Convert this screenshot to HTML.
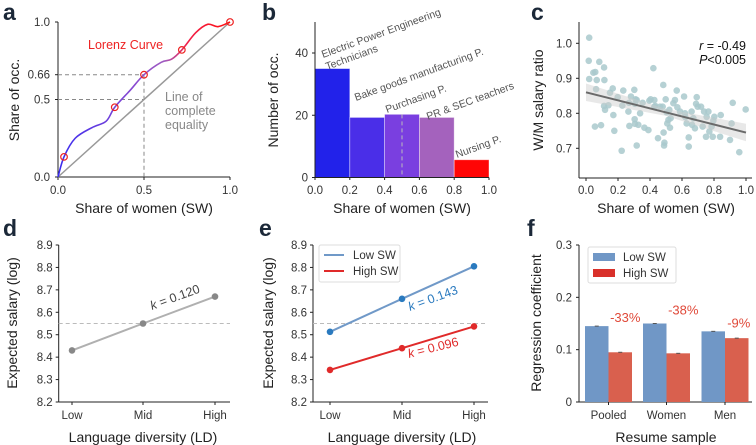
<!DOCTYPE html>
<html><head><meta charset="utf-8">
<style>
html,body{margin:0;padding:0;background:#fff;}
svg{display:block;font-family:"Liberation Sans","DejaVu Sans",sans-serif;}
.tk{font-size:11.5px;fill:#333;}
.lab{font-size:14px;fill:#222;}
.pl{font-size:23px;font-weight:bold;fill:#1b2838;}
</style></head>
<body>
<svg id="fig" width="756" height="445" viewBox="0 0 756 445" xmlns="http://www.w3.org/2000/svg">
<defs>
<linearGradient id="lg" x1="58" y1="0" x2="230" y2="0" gradientUnits="userSpaceOnUse">
<stop offset="0" stop-color="#3a2cf0"/><stop offset="0.45" stop-color="#8a4ad0"/><stop offset="0.62" stop-color="#a05cc0"/><stop offset="0.75" stop-color="#f0204a"/><stop offset="1" stop-color="#ff1010"/>
</linearGradient>
</defs>
</svg>
<script>
// ---- data ----
const lorenzX=[0,0.035,0.1,0.2,0.28,0.33,0.42,0.5,0.6,0.66,0.72,0.8,0.87,0.93,1.0];
const lorenzY=[0,0.13,0.25,0.32,0.36,0.45,0.56,0.66,0.74,0.76,0.82,0.93,0.985,0.97,1.0];
const lorenzMarkX=[0.035,0.33,0.5,0.72,1.0];
const lorenzMarkY=[0.13,0.45,0.66,0.82,1.0];
const histEdges=[0,0.2,0.4,0.6,0.8,1.0];
const histCounts=[35,19.3,20.3,19.3,5.7];
const histColors=["#2222ea","#4a2ee8","#7a3fe0","#a462bd","#ff0505"];
const scatX=[.02,.017,.02,.046,.058,.067,.063,.083,.113,.115,.056,.094,.113,.119,.14,.15,.167,.171,.177,.198,.233,.227,.269,.265,.271,.281,.302,.306,.31,.304,.306,.317,.317,.327,.338,.354,.365,.39,.396,.404,.421,.427,.427,.433,.45,.463,.479,.483,.485,.49,.488,.498,.504,.508,.515,.521,.525,.529,.546,.556,.567,.571,.588,.613,.619,.621,.629,.642,.642,.66,.663,.671,.681,.688,.692,.698,.719,.729,.738,.75,.754,.765,.771,.785,.792,.802,.796,.838,.842,.9,.917,.91,.958,.998,.223];
const scatY=[1.016,.95,.898,.916,.918,.895,.869,.947,.931,.895,.762,.766,.821,.81,.823,.859,.871,.795,.75,.846,.865,.822,.83,.805,.764,.848,.867,.827,.84,.783,.77,.838,.708,.767,.8,.83,.759,.752,.836,.84,.929,.838,.819,.821,.729,.819,.819,.881,.745,.716,.708,.84,.803,.771,.781,.81,.759,.786,.829,.838,.865,.817,.805,.848,.8,.789,.771,.731,.705,.805,.767,.786,.757,.827,.846,.819,.819,.762,.805,.733,.79,.805,.748,.762,.733,.79,.779,.733,.795,.724,.83,.771,.689,.811,.693];
const fitStart=0.86, fitEnd=0.745;
const ldCats=["Low","Mid","High"];
const dVals=[8.43,8.55,8.67];
const eLow=[8.513,8.66,8.805];
const eHigh=[8.343,8.44,8.537];
const salaryTicks=[8.2,8.3,8.4,8.5,8.6,8.7,8.8,8.9];
const fCats=["Pooled","Women","Men"];
const fLow=[0.145,0.15,0.135];
const fHigh=[0.095,0.093,0.122];
const fPct=["-33%","-38%","-9%"];
const fTicks=[0,0.1,0.2,0.3];

const NS="http://www.w3.org/2000/svg";
const svg=document.getElementById('fig');
function mk(tag,attrs,parent,txt){const e=document.createElementNS(NS,tag);for(const k in attrs)e.setAttribute(k,attrs[k]);if(txt!==undefined)e.textContent=txt;(parent||svg).appendChild(e);return e;}
function lin(d0,d1,r0,r1){return v=>r0+(v-d0)/(d1-d0)*(r1-r0);}

// ---------- panel letters ----------
[["a",3,20],["b",262,20],["c",531,20],["d",3,236],["e",259,236],["f",527,236]].forEach(p=>{
 const t=mk('text',{x:p[1],y:p[2],class:'pl'},svg,p[0]);
 
 
});

function yLabel(x,cy,txt,name){const t=mk('text',{x:0,y:0,class:'lab','text-anchor':'middle',transform:`translate(${x},${cy}) rotate(-90)`},svg,txt);}
function xLabel(cx,y,txt,name){const t=mk('text',{x:cx,y:y,class:'lab','text-anchor':'middle'},svg,txt);}

// ---------- panel a ----------
{const g=mk('g',{});
const X=lin(0,1,58,230),Y=lin(0,1,177,22);
mk('line',{x1:58,y1:22,x2:58,y2:177,stroke:'#222','stroke-width':1},g);
mk('line',{x1:58,y1:177,x2:230,y2:177,stroke:'#222','stroke-width':1},g);
[[0,"0.0"],[0.5,"0.5"],[1,"1.0"]].forEach(t=>{mk('text',{x:X(t[0]),y:194,class:'tk','text-anchor':'middle'},g,t[1]);mk('line',{x1:X(t[0]),y1:177,x2:X(t[0]),y2:180,stroke:'#222'},g);});
[[0,"0.0"],[0.5,"0.5"],[0.66,"0.66"],[1,"1.0"]].forEach(t=>{mk('text',{x:50,y:Y(t[0])+4,class:'tk','text-anchor':'end'},g,t[1]);mk('line',{x1:55,y1:Y(t[0]),x2:58,y2:Y(t[0]),stroke:'#222'},g);});
mk('line',{x1:58,y1:Y(0.66),x2:X(0.5),y2:Y(0.66),stroke:'#888','stroke-dasharray':'4,3'},g);
mk('line',{x1:58,y1:Y(0.5),x2:X(0.5),y2:Y(0.5),stroke:'#888','stroke-dasharray':'4,3'},g);
mk('line',{x1:X(0.5),y1:Y(0.66),x2:X(0.5),y2:177,stroke:'#888','stroke-dasharray':'4,3'},g);
mk('line',{x1:X(0),y1:Y(0),x2:X(1),y2:Y(1),stroke:'#999','stroke-width':1.5},g);
const pts=lorenzX.map((x,i)=>[X(x),Y(lorenzY[i])]);
let d=`M${pts[0][0]},${pts[0][1]}`;
for(let i=0;i<pts.length-1;i++){const p0=pts[Math.max(0,i-1)],p1=pts[i],p2=pts[i+1],p3=pts[Math.min(pts.length-1,i+2)];
 d+=` C${p1[0]+(p2[0]-p0[0])/6},${p1[1]+(p2[1]-p0[1])/6} ${p2[0]-(p3[0]-p1[0])/6},${p2[1]-(p3[1]-p1[1])/6} ${p2[0]},${p2[1]}`;}
const c=mk('path',{d:d,fill:'none',stroke:'url(#lg)','stroke-width':1.6},g);
lorenzMarkX.forEach((x,i)=>{const m=mk('circle',{cx:X(x),cy:Y(lorenzMarkY[i]),r:3.3,fill:'none',stroke:'#ee2222','stroke-width':1.2},g);});
mk('text',{x:88,y:49,'font-size':'12.5px',fill:'#ee2222'},g,'Lorenz Curve');
[["Line of",101],["complete",115],["equality",129]].forEach(t=>mk('text',{x:165,y:t[1],'font-size':'12.5px',fill:'#888'},g,t[0]));
}
yLabel(19,100,"Share of occ.","a-y-axis-title");
xLabel(144,213,"Share of women (SW)","a-x-axis-title");

// ---------- panel b ----------
{const g=mk('g',{});
const X=lin(0,1,315,489),Y=lin(0,40,177.5,53);
histCounts.forEach((v,i)=>{const r=mk('rect',{x:X(histEdges[i]),y:Y(v),width:X(histEdges[i+1])-X(histEdges[i]),height:Y(0)-Y(v),fill:histColors[i],stroke:'#fff','stroke-opacity':0.5,'stroke-width':0.8},g);});
mk('line',{x1:X(0.5),y1:Y(histCounts[2]),x2:X(0.5),y2:Y(0),stroke:'#bbb','stroke-dasharray':'4,3'},g);
mk('line',{x1:315,y1:22,x2:315,y2:177.5,stroke:'#222'},g);
mk('line',{x1:315,y1:177.5,x2:489,y2:177.5,stroke:'#222'},g);
[0,0.2,0.4,0.6,0.8,1.0].forEach(t=>{mk('text',{x:X(t),y:194,class:'tk','text-anchor':'middle'},g,t.toFixed(1));mk('line',{x1:X(t),y1:177.5,x2:X(t),y2:180,stroke:'#222'},g);});
[0,20,40].forEach(t=>{mk('text',{x:308,y:Y(t)+4,class:'tk','text-anchor':'end'},g,String(t));mk('line',{x1:312,y1:Y(t),x2:315,y2:Y(t),stroke:'#222'},g);});
[["Electric Power Engineering",323,58],["Technicians",327,70],["Bake goods manufacturing P.",356,101],["Purchasing P.",387,113],["PR & SEC teachers",428,120],["Nursing P.",457,158]].forEach(t=>{
 mk('text',{x:0,y:0,'font-size':'10.5px',fill:'#555',transform:`translate(${t[1]},${t[2]}) rotate(-20)`},g,t[0]);});
}
yLabel(278,100,"Number of occ.","b-y-axis-title");
xLabel(402,213,"Share of women (SW)","b-x-axis-title");

// ---------- panel c ----------
{const g=mk('g',{});
const X=lin(0,1,586,746),Y=lin(0.7,1.0,148.3,43.3);
mk('line',{x1:579,y1:22,x2:579,y2:178,stroke:'#222'},g);
mk('line',{x1:579,y1:178,x2:752,y2:178,stroke:'#222'},g);
[0,0.2,0.4,0.6,0.8,1.0].forEach(t=>{mk('text',{x:X(t),y:194,class:'tk','text-anchor':'middle'},g,t.toFixed(1));mk('line',{x1:X(t),y1:178,x2:X(t),y2:181,stroke:'#222'},g);});
[0.7,0.8,0.9,1.0].forEach(t=>{mk('text',{x:572,y:Y(t)+4,class:'tk','text-anchor':'end'},g,t.toFixed(1));mk('line',{x1:576,y1:Y(t),x2:579,y2:Y(t),stroke:'#222'},g);});
scatX.forEach((x,i)=>{const p=mk('circle',{cx:X(x),cy:Y(scatY[i]),r:3.3,fill:'#a9c9cc','fill-opacity':0.85},g);});
mk('path',{d:`M${X(0)},${Y(fitStart-0.025)} L${X(0.5)},${Y((fitStart+fitEnd)/2-0.01)} L${X(1)},${Y(fitEnd-0.025)} L${X(1)},${Y(fitEnd+0.025)} L${X(0.5)},${Y((fitStart+fitEnd)/2+0.01)} L${X(0)},${Y(fitStart+0.025)} Z`,fill:'#ccc','fill-opacity':0.45},g);
const fl=mk('line',{x1:X(0),y1:Y(fitStart),x2:X(1),y2:Y(fitEnd),stroke:'#6a6a6a','stroke-width':2},g);
const t1=mk('text',{x:746,y:50,'font-size':'12.5px',fill:'#111','text-anchor':'end'},g);
mk('tspan',{'font-style':'italic'},t1,'r');mk('tspan',{},t1,' = -0.49');
const t2=mk('text',{x:746,y:64,'font-size':'12.5px',fill:'#111','text-anchor':'end'},g);
mk('tspan',{'font-style':'italic'},t2,'P');mk('tspan',{},t2,'<0.005');
}
yLabel(543,100,"W/M salary ratio","c-y-axis-title");
xLabel(666,213,"Share of women (SW)","c-x-axis-title");

// ---------- panels d & e shared axis helper ----------
function salaryAxes(g,ax,xs,right){
 const Y=lin(8.2,8.9,402,245);
 mk('line',{x1:ax,y1:245,x2:ax,y2:402,stroke:'#222'},g);
 mk('line',{x1:ax,y1:402,x2:right,y2:402,stroke:'#222'},g);
 salaryTicks.forEach(t=>{mk('text',{x:ax-6,y:Y(t)+4,class:'tk','text-anchor':'end'},g,t.toFixed(1));mk('line',{x1:ax-3,y1:Y(t),x2:ax,y2:Y(t),stroke:'#222'},g);});
 ldCats.forEach((c,i)=>{mk('text',{x:xs[i],y:419,class:'tk','text-anchor':'middle'},g,c);mk('line',{x1:xs[i],y1:402,x2:xs[i],y2:405,stroke:'#222'},g);});
 mk('line',{x1:ax,y1:Y(8.55),x2:right,y2:Y(8.55),stroke:'#bbb','stroke-dasharray':'4,3'},g);
 return Y;
}
function series(g,xs,Y,vals,lc,pc,name){
 const l=mk('polyline',{points:vals.map((v,i)=>xs[i]+','+Y(v)).join(' '),fill:'none',stroke:lc,'stroke-width':2},g);
 
 vals.forEach((v,i)=>{const p=mk('circle',{cx:xs[i],cy:Y(v),r:3.3,fill:pc},g);});
}
// panel d
{const g=mk('g',{});
const xs=[72,143,215];const Y=salaryAxes(g,58.7,xs,230);
series(g,xs,Y,dVals,'#b0b0b0','#888','overall');
const t=mk('text',{x:0,y:0,'font-size':'12.5px',fill:'#444',transform:`translate(152,310) rotate(-20)`},g);mk('tspan',{'font-style':'italic'},t,'k');mk('tspan',{},t,' = 0.120');
}
yLabel(17,323,"Expected salary (log)","d-y-axis-title");
xLabel(143,442,"Language diversity (LD)","d-x-axis-title");
// panel e
{const g=mk('g',{});
const xs=[330,402,474];const Y=salaryAxes(g,313,xs,488);
series(g,xs,Y,eLow,'#7099c8','#2a7abf','low-sw');
series(g,xs,Y,eHigh,'#e02a2a','#e02a2a','high-sw');
const t=mk('text',{x:0,y:0,'font-size':'12.5px',fill:'#2a7abf',transform:`translate(410,311) rotate(-20)`},g);mk('tspan',{'font-style':'italic'},t,'k');mk('tspan',{},t,' = 0.143');
const t2=mk('text',{x:0,y:0,'font-size':'12.5px',fill:'#e02a2a',transform:`translate(409,358) rotate(-14)`},g);mk('tspan',{'font-style':'italic'},t2,'k');mk('tspan',{},t2,' = 0.096');
const lg=mk('g',{},g);
mk('rect',{x:319,y:245,width:81,height:37,fill:'#fff',stroke:'#ddd',rx:2},lg);
mk('line',{x1:324,y1:255,x2:344,y2:255,stroke:'#7099c8','stroke-width':2},lg);mk('text',{x:353,y:259,class:'tk'},lg,'Low SW');
mk('line',{x1:324,y1:271,x2:344,y2:271,stroke:'#e02a2a','stroke-width':2},lg);mk('text',{x:353,y:275,class:'tk'},lg,'High SW');
}
yLabel(273,323,"Expected salary (log)","e-y-axis-title");
xLabel(402,442,"Language diversity (LD)","e-x-axis-title");

// ---------- panel f ----------
{const g=mk('g',{});
const Y=lin(0,0.3,402,245);const centers=[608.5,666.5,725];const bw=23.5;
mk('line',{x1:579,y1:245,x2:579,y2:402,stroke:'#222'},g);
mk('line',{x1:579,y1:402,x2:752,y2:402,stroke:'#222'},g);
fTicks.forEach(t=>{mk('text',{x:572,y:Y(t)+4,class:'tk','text-anchor':'end'},g,t===0?'0':t.toFixed(1));mk('line',{x1:576,y1:Y(t),x2:579,y2:Y(t),stroke:'#222'},g);});
fCats.forEach((c,i)=>{
 mk('text',{x:centers[i],y:419,class:'tk','text-anchor':'middle'},g,c);
 mk('line',{x1:centers[i],y1:402,x2:centers[i],y2:405,stroke:'#222'},g);
 const b1=mk('rect',{x:centers[i]-bw,y:Y(fLow[i]),width:bw,height:Y(0)-Y(fLow[i]),fill:'#7097c6'},g);
 const b2=mk('rect',{x:centers[i],y:Y(fHigh[i]),width:bw,height:Y(0)-Y(fHigh[i]),fill:'#d9604e'},g);
 mk('line',{x1:centers[i]-bw/2-2,y1:Y(fLow[i]),x2:centers[i]-bw/2+2,y2:Y(fLow[i]),stroke:'#555'},g);
 mk('line',{x1:centers[i]+bw/2-2,y1:Y(fHigh[i]),x2:centers[i]+bw/2+2,y2:Y(fHigh[i]),stroke:'#555'},g);
 mk('text',{x:centers[i]+bw/2+(i===2?2:5),y:Y(Math.max(fLow[i],fHigh[i]))-(i===1?9:4),'font-size':'13px',fill:'#e04a3a','text-anchor':'middle'},g,fPct[i]);
});
const lg=mk('g',{},g);
mk('rect',{x:588,y:247,width:88,height:36,fill:'#fff',stroke:'#ddd',rx:2},lg);
mk('rect',{x:593,y:253,width:22,height:8,fill:'#7097c6'},lg);mk('text',{x:623,y:261,class:'tk'},lg,'Low SW');
mk('rect',{x:593,y:269,width:22,height:8,fill:'#d9302a'},lg);mk('text',{x:623,y:277,class:'tk'},lg,'High SW');
}
yLabel(541,323,"Regression coefficient","f-y-axis-title");
xLabel(666,442,"Resume sample","f-x-axis-title");
</script>
</body></html>
